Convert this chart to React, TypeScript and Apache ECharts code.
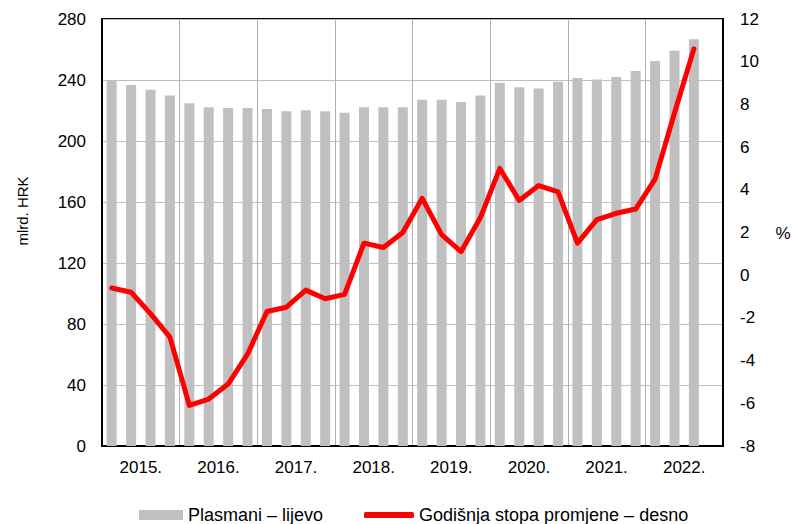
import React, { useEffect, useRef } from "react";
import * as echarts from "echarts";

const years = ["2015.", "2016.", "2017.", "2018.", "2019.", "2020.", "2021.", "2022."];
const quarters = years.flatMap((y) => ["Q1", "Q2", "Q3", "Q4"].map((q) => y + " " + q));

const plasmani = [
  240.0, 236.7, 233.6, 229.9, 224.7, 222.1, 221.6, 221.6, 221.0, 219.5, 220.1, 219.5,
  218.6, 222.1, 222.1, 222.1, 227.1, 227.1, 225.6, 229.9, 238.2, 235.2, 234.5, 238.9,
  241.3, 240.4, 242.0, 245.9, 252.4, 259.2, 266.7, null,
];

const stopa = [
  -0.6, -0.8, -1.8, -2.9, -6.1, -5.8, -5.1, -3.7, -1.7, -1.5, -0.7, -1.1,
  -0.9, 1.5, 1.3, 2.0, 3.6, 1.9, 1.1, 2.7, 5.0, 3.5, 4.2, 3.9,
  1.5, 2.6, 2.9, 3.1, 4.5, 7.6, 10.6, null,
];

const leftTicks = { min: 0, max: 280, interval: 40 };
const rightTicks = { min: -8, max: 12, interval: 2 };

const barName = "Plasmani – lijevo";
const lineName = "Godišnja stopa promjene – desno";

const FONT = "'Liberation Sans', Arial, sans-serif";

export default function App() {
  const ref = useRef<HTMLDivElement>(null);
  useEffect(() => {
    if (!ref.current) return;
    const chart = echarts.init(ref.current, null, { renderer: "svg" });
    const legendText = { fontSize: 18, color: "#000", fontFamily: FONT };
    chart.setOption({
      animation: false,
      backgroundColor: "#fff",
      textStyle: { fontFamily: FONT, color: "#000" },
      grid: {
        left: 102,
        right: 69,
        top: 19,
        bottom: 78,
        show: true,
        borderColor: "#000",
        borderWidth: 2,
        backgroundColor: "transparent",
      },
      legend: [
        {
          left: 134,
          top: 501,
          itemGap: 0,
          itemWidth: 44,
          itemHeight: 10,
          textStyle: legendText,
          data: [{ name: barName, icon: "rect" }],
        },
        {
          left: 359,
          top: 501,
          itemGap: 0,
          itemWidth: 50,
          itemHeight: 6,
          textStyle: legendText,
          data: [{ name: lineName, icon: "roundRect", itemStyle: { color: "#ff0000" } }],
        },
      ],
      xAxis: [
        {
          type: "category",
          data: quarters,
          show: false,
          boundaryGap: true,
          axisLine: { onZero: false },
        },
        {
          type: "category",
          data: years,
          position: "bottom",
          boundaryGap: true,
          axisLine: { show: true, onZero: false, lineStyle: { color: "#000", width: 2 } },
          axisTick: { show: false },
          axisLabel: { color: "#000", fontSize: 17, margin: 13, fontFamily: FONT },
          splitLine: { show: true, lineStyle: { color: "#b0b0b0", width: 1 } },
        },
      ],
      yAxis: [
        {
          type: "value",
          ...leftTicks,
          position: "left",
          axisLine: { show: true, lineStyle: { color: "#000", width: 2 } },
          axisTick: { show: false },
          axisLabel: { color: "#000", fontSize: 17, margin: 16, fontFamily: FONT },
          splitLine: { show: true, lineStyle: { color: "#c0c0c0", width: 1 } },
        },
        {
          type: "value",
          ...rightTicks,
          position: "right",
          axisLine: { show: true, lineStyle: { color: "#000", width: 2 } },
          axisTick: { show: false },
          axisLabel: { color: "#000", fontSize: 17, margin: 17, fontFamily: FONT },
          splitLine: { show: false },
        },
      ],
      graphic: [
        {
          type: "text",
          x: 22,
          y: 211,
          rotation: Math.PI / 2,
          style: {
            text: "mlrd. HRK",
            fontSize: 15,
            fontFamily: FONT,
            fill: "#000",
            align: "center",
            verticalAlign: "middle",
          },
        },
        {
          type: "text",
          x: 783,
          y: 233,
          style: {
            text: "%",
            fontSize: 17,
            fontFamily: FONT,
            fill: "#000",
            align: "center",
            verticalAlign: "middle",
          },
        },
      ],
      series: [
        {
          name: barName,
          type: "bar",
          xAxisIndex: 0,
          yAxisIndex: 0,
          data: plasmani,
          barWidth: 10,
          itemStyle: { color: "#c0c0c0" },
          z: 2,
        },
        {
          name: lineName,
          type: "line",
          xAxisIndex: 0,
          yAxisIndex: 1,
          data: stopa,
          symbol: "none",
          lineStyle: { color: "#ff0000", width: 5, cap: "round", join: "round" },
          itemStyle: { color: "#ff0000" },
          z: 3,
        },
      ],
    });
    return () => chart.dispose();
  }, []);
  return <div ref={ref} style={{ width: 792, height: 524, position: "absolute", left: 0, top: 0 }} />;
}
